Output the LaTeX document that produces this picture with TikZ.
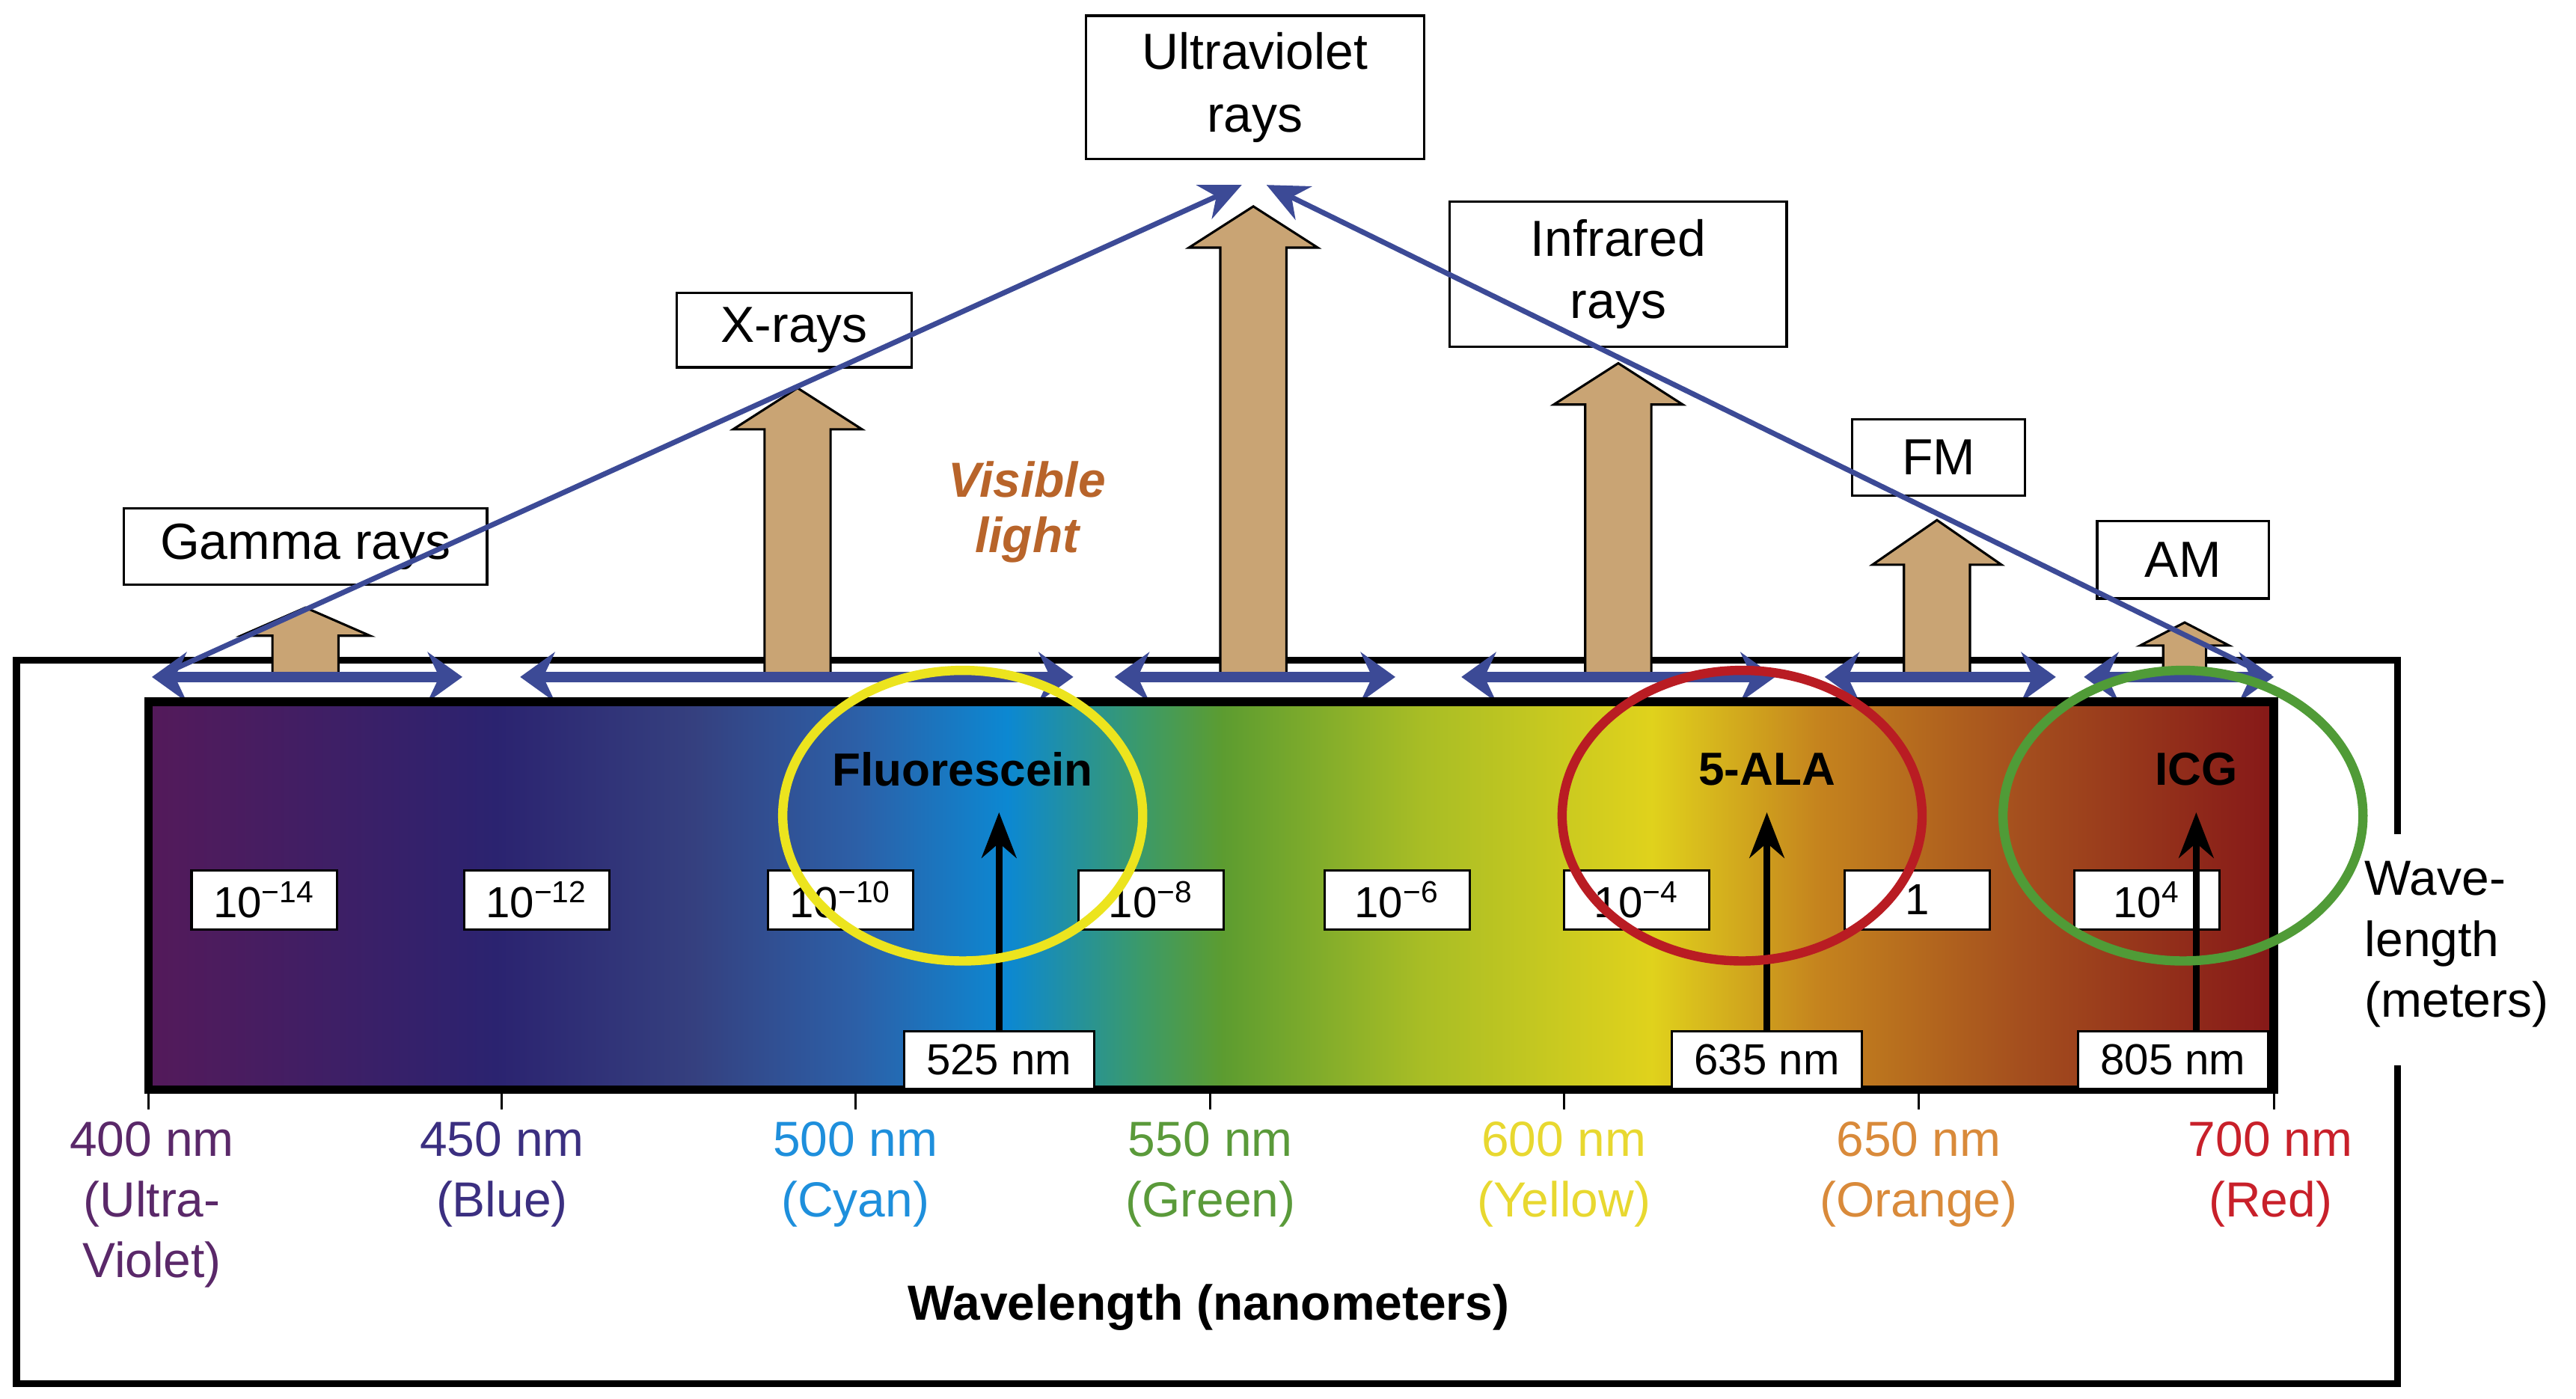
\documentclass[tikz,border=0pt]{standalone}
\usepackage{fontspec}
\setmainfont{Liberation Sans}
\usetikzlibrary{arrows.meta}
\definecolor{tan}{HTML}{C9A474}
\definecolor{lblue}{HTML}{3C4A96}
\definecolor{vis}{HTML}{B8642A}
\newcommand{\sps}[1]{\textsuperscript{#1}}
\begin{document}
\begin{tikzpicture}[x=0.02cm,y=-0.02cm,
  lbl/.style={draw,line width=0.8pt,fill=white,align=center,inner sep=0pt,font=\fontsize{17.5}{21.5}\selectfont},
  pw/.style={draw,line width=0.8pt,fill=white,minimum width=1.76cm,minimum height=0.72cm,inner sep=0pt,font=\fontsize{15}{16}\selectfont},
  nm/.style={draw,line width=0.8pt,fill=white,minimum width=2.3cm,minimum height=0.7cm,inner sep=0pt,font=\fontsize{15}{16}\selectfont},
  tick/.style={align=center,font=\fontsize{17}{21}\selectfont},
  dye/.style={font=\bfseries\fontsize{16}{18}\selectfont},
  dbl/.style={lblue,line width=3.5pt,{Stealth[length=0.42cm,width=0.6cm,inset=0.14cm]}-{Stealth[length=0.42cm,width=0.6cm,inset=0.14cm]}},
  tanarr/.style={fill=tan,draw=black,line width=0.8pt,line join=miter},
  ring/.style={line width=3.2pt}]
\useasboundingbox (0,0) rectangle (1560,847);
% outer frame
\draw[line width=2.4pt] (1452,505)--(1452,400)--(10,400)--(10,838)--(1452,838)--(1452,645);
% label boxes
\node[lbl,minimum width=4.4cm,minimum height=0.92cm] (gam) at (185,331) {Gamma rays};
\node[lbl,minimum width=2.84cm,minimum height=0.9cm] (xr) at (481,200) {X-rays};
\node[lbl,minimum width=4.1cm,minimum height=1.74cm] (uv) at (760,53) {Ultraviolet\\rays};
\node[lbl,minimum width=4.08cm,minimum height=1.76cm] (ir) at (980,166) {Infrared\\rays};
\node[lbl,minimum width=2.1cm,minimum height=0.92cm] (fm) at (1174,277) {FM};
\node[lbl,minimum width=2.08cm,minimum height=0.94cm] (am) at (1322,339) {AM};
% tan arrows
\foreach \x/\t/\h/\hw in {185/368/385/39, 483/235/260/39, 759/125/150/39, 980/220/245/39, 1173/315/342/39, 1323/377/391/27}{
  \pgfmathsetmacro{\sw}{\hw==39?20:13}
  \draw[tanarr] (\x-\sw,410)--(\x-\sw,\h)--(\x-\hw,\h)--(\x,\t)--(\x+\hw,\h)--(\x+\sw,\h)--(\x+\sw,410)--cycle;
}
% blue lines to apex
\coordinate (lb) at (95,410);
\coordinate (rb) at (1375,410);
\coordinate (apl) at (752,112);
\coordinate (apr) at (767,112);
\draw[lblue,line width=1.8pt,-{Stealth[length=0.5cm,width=0.45cm]}] (lb)--(apl);
\draw[lblue,line width=1.8pt,-{Stealth[length=0.5cm,width=0.45cm]}] (rb)--(apr);
% double arrows
\foreach \a/\b in {92/280, 315/650, 675/845, 885/1075, 1105/1245, 1262/1377}
  \draw[dbl] (\a,410)--(\b,410);
% spectrum gradient
\foreach \a/\b/\ca/\cb in {90/300/541A5A/2B2370, 300/420/2B2370/35407F, 420/520/35407F/2C60A8, 520/610/2C60A8/0C88D2, 610/690/0C88D2/3B9A6A, 690/740/3B9A6A/5C9C30, 740/860/5C9C30/A8BD25, 860/1000/A8BD25/E0D21C, 1000/1100/E0D21C/C5841E, 1100/1220/C5841E/A5501E, 1220/1377/A5501E/861818}{
  \definecolor{ca}{HTML}{\ca}\definecolor{cb}{HTML}{\cb}
  \shade[left color=ca,right color=cb] (\a,425) rectangle (\b+0.5,660);
}
\draw[line width=3pt] (90,425) rectangle (1377,660);
% ticks
\foreach \x in {90,304,518,733,947,1162,1377} \draw[line width=0.8pt] (\x,660)--(\x,672);
\node[tick,text={rgb,255:red,90;green,40;blue,105},anchor=north] (t400) at (92,673) {400 nm\\(Ultra-\\Violet)};
\node[tick,text={rgb,255:red,59;green,47;blue,128},anchor=north] (t450) at (304,673) {450 nm\\(Blue)};
\node[tick,text={rgb,255:red,30;green,143;blue,220},anchor=north] (t500) at (518,673) {500 nm\\(Cyan)};
\node[tick,text={rgb,255:red,90;green,154;blue,58},anchor=north] (t550) at (733,673) {550 nm\\(Green)};
\node[tick,text={rgb,255:red,232;green,216;blue,48},anchor=north] (t600) at (947,673) {600 nm\\(Yellow)};
\node[tick,text={rgb,255:red,217;green,138;blue,58},anchor=north] (t650) at (1162,673) {650 nm\\(Orange)};
\node[tick,text={rgb,255:red,200;green,32;blue,42},anchor=north] (t700) at (1375,673) {700 nm\\(Red)};
\node[font=\bfseries\fontsize{17}{20}\selectfont] (wl) at (732,792) {Wavelength (nanometers)};
\node[tick,align=left,anchor=west] (wm) at (1426,572) {Wave-\\length\\(meters)};
% powers
\node[pw] (p1) at (160,545) {10\sps{−14}};
\node[pw] (p2) at (325,545) {10\sps{−12}};
\node[pw] (p3) at (509,545) {10\sps{−10}};
\node[pw] (p4) at (697,545) {10\sps{−8}};
\node[pw] (p5) at (846,545) {10\sps{−6}};
\node[pw] (p6) at (991,545) {10\sps{−4}};
\node[pw] (p7) at (1161,545) {1};
\node[pw] (p8) at (1300,545) {10\sps{4}};
% dyes
\node[dye] (fl) at (583,466) {Fluorescein};
\node[dye] (ala) at (1070,466) {5-ALA};
\node[dye] (icg) at (1330,466) {ICG};
\node[nm] (n1) at (605,642) {525 nm};
\node[nm] (n2) at (1070,642) {635 nm};
\node[nm] (n3) at (1316,642) {805 nm};
\coordinate (a1) at (605,492);
\coordinate (a2) at (1070,492);
\coordinate (a3) at (1330,492);
\draw[line width=2.4pt,-{Stealth[length=0.55cm,width=0.42cm]}] (n1.north)--(a1);
\draw[line width=2.4pt,-{Stealth[length=0.55cm,width=0.42cm]}] (n2.north)--(a2);
\draw[line width=2.4pt,-{Stealth[length=0.55cm,width=0.42cm]}] (a3|-n3.north)--(a3);
% rings
\draw[ring,draw={rgb,255:red,236;green,228;blue,30}] (583,494) ellipse [x radius=109,y radius=88];
\draw[ring,draw={rgb,255:red,185;green,28;blue,35}] (1055,494) ellipse [x radius=109,y radius=88];
\draw[ring,draw={rgb,255:red,80;green,155;blue,55}] (1322,494) ellipse [x radius=109,y radius=88];
% visible light
\node[font=\bfseries\itshape\fontsize{17}{19}\selectfont,text=vis,align=center] (vl) at (622,310) {Visible\\light};
\end{tikzpicture}
\end{document}
